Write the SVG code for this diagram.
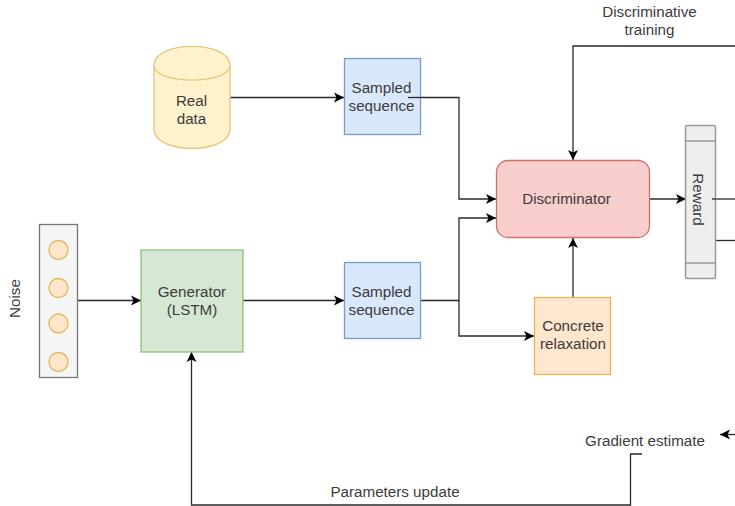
<svg xmlns="http://www.w3.org/2000/svg" width="735" height="506" viewBox="0 0 735 506">
<defs>
<marker id="arrow" markerUnits="userSpaceOnUse" markerWidth="14" markerHeight="14" refX="11" refY="7" orient="auto"><path d="M1 2L11 7L1 12L3.500 7Z" fill="#000"/></marker>
</defs>
<style>
text{font-family:"Liberation Sans",Arial,sans-serif;font-size:15.200px;fill:#3c3c3c;text-anchor:middle}
.c{fill:none;stroke:#2a2a2a;stroke-width:1.300}
.a{marker-end:url(#arrow)}
.blue{fill:#dae8fc;stroke:#7a9bc9;stroke-width:1.300}
.dot{fill:#ffe6cc;stroke:#e3b75c;stroke-width:1.300}
</style>
<rect width="735" height="506" fill="#fff"/>
<g id="connectors">
<path class="c a" d="M230 97.500H344"/>
<path class="c a" d="M408 97.500H459V199H496"/>
<path class="c a" d="M243 300.500H344"/>
<path class="c a" d="M421 300.500H459V218H496"/>
<path class="c a" d="M459 300.500V336H534"/>
<path class="c a" d="M573 297V238"/>
<path class="c a" d="M735 46H573V160"/>
<path class="c a" d="M649.500 199H686"/>
<path class="c" d="M712 199H735"/>
<path class="c" d="M715 240.500H735"/>
<path class="c a" d="M77 300.500H141"/>
<path class="c a" d="M735 434.500H720"/>
<path class="c a" d="M642 454H630.500V505H191.500V352"/>
</g>
<g id="real-data">
<path d="M154 65.500C154 40 230 40 230 65.500V129C230 155 154 155 154 129Z" fill="#fff2cc" stroke="#e2c87a" stroke-width="1.300"/>
<path d="M154 65.500C154 85 230 85 230 65.500" fill="none" stroke="#e2c87a" stroke-width="1.300"/>
<text x="191.500" y="106">Real</text><text x="191.500" y="124">data</text>
</g>
<g id="sampled-top">
<rect class="blue" x="344.500" y="58.500" width="76" height="76"/>
<path class="c" d="M408 97.500H421"/>
<text x="381.500" y="93">Sampled</text><text x="381.500" y="111">sequence</text>
</g>
<g id="noise">
<rect x="39.500" y="224.500" width="38" height="153" fill="#f5f5f5" stroke="#777" stroke-width="1.300"/>
<circle class="dot" cx="58.500" cy="250" r="9.500"/>
<circle class="dot" cx="58.500" cy="288" r="9.500"/>
<circle class="dot" cx="58.500" cy="323.500" r="9.500"/>
<circle class="dot" cx="58.500" cy="362" r="9.500"/>
<text transform="translate(20 298.500) rotate(-90)">Noise</text>
</g>
<g id="generator">
<rect x="141" y="250" width="102" height="102" fill="#d5e8d4" stroke="#93bf78" stroke-width="1.300"/>
<text x="192" y="297">Generator</text><text x="192" y="315">(LSTM)</text>
</g>
<g id="sampled-bottom">
<rect class="blue" x="344.500" y="262.500" width="76" height="76"/>
<text x="381.500" y="297">Sampled</text><text x="381.500" y="315">sequence</text>
</g>
<g id="discriminator">
<rect x="496.500" y="160.500" width="153" height="77" rx="11.500" fill="#f8cecc" stroke="#c9736f" stroke-width="1.300"/>
<text x="566.500" y="204">Discriminator</text>
</g>
<g id="concrete-relaxation">
<rect x="534.500" y="297.500" width="76" height="77" fill="#ffe6cc" stroke="#e3b75c" stroke-width="1.300"/>
<text x="573" y="331">Concrete</text><text x="573" y="349">relaxation</text>
</g>
<g id="reward">
<rect x="685.500" y="125.500" width="30" height="153" rx="1.500" fill="#eee" stroke="#999" stroke-width="1.500"/>
<path d="M685.500 141H715.500M685.500 263H715.500" stroke="#999" stroke-width="1.500"/>
<path class="c" d="M712 199H716"/>
<text transform="translate(692.500 199.500) rotate(90)">Reward</text>
</g>
<g id="labels">
<text x="649.500" y="17">Discriminative</text><text x="649.500" y="35">training</text>
<text x="645" y="446">Gradient estimate</text>
<text x="395" y="497">Parameters update</text>
</g>
</svg>
